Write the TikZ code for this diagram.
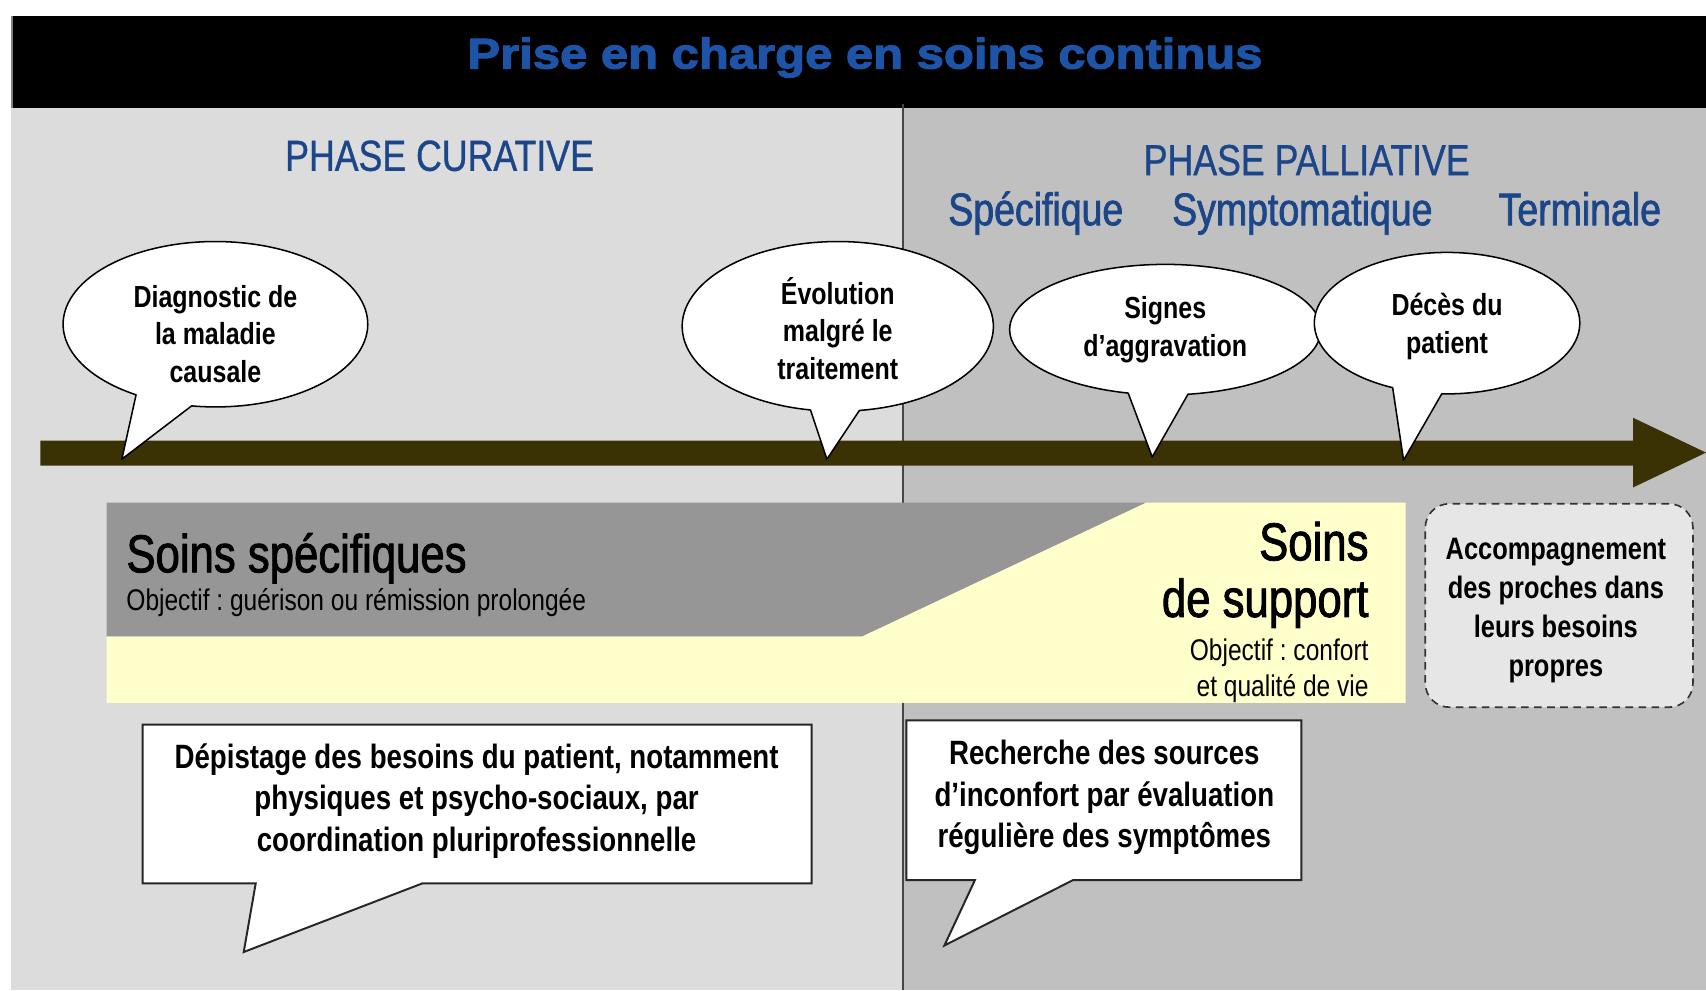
\documentclass[tikz,border=0pt]{standalone}
\usepackage{fontspec}
\setmainfont{Liberation Sans}
\frenchspacing
\newfontfamily\nreg[FakeStretch=0.82]{Liberation Sans}
\newfontfamily\nmed[FakeStretch=0.82,FakeBold=1.6]{Liberation Sans}
\newfontfamily\nsemi[FakeStretch=0.82,FakeBold=0.8]{Liberation Sans}
\newfontfamily\titlefont[FakeStretch=1.14,FakeBold=2.5]{Liberation Sans}
\definecolor{bgL}{RGB}{220,220,220}
\definecolor{bgR}{RGB}{192,192,192}
\definecolor{hblue}{RGB}{28,70,138}
\definecolor{tblue}{RGB}{30,84,168}
\definecolor{olive}{RGB}{58,50,5}
\definecolor{bandgray}{RGB}{150,150,150}
\definecolor{paleyellow}{RGB}{255,255,204}
\definecolor{boxgray}{RGB}{230,230,230}
\definecolor{divider}{RGB}{70,70,70}
\begin{document}
\begin{tikzpicture}[x=1pt,y=-1pt,
  bubble/.style={draw=black,line width=1.4pt,fill=white,line join=round},
  callout/.style={draw=black!85,line width=1.8pt,fill=white,line join=miter},
  btext/.style={font=\nreg\bfseries\fontsize{28}{34.5}\selectfont,align=center,inner sep=0pt},
  ctext/.style={font=\nreg\bfseries\fontsize{31}{38}\selectfont,align=center,inner sep=0pt},
  head/.style={font=\nsemi\fontsize{40}{48}\selectfont,text=hblue,inner sep=0pt,anchor=base},
  subhead/.style={font=\nmed\fontsize{42}{50}\selectfont,text=hblue,inner sep=0pt,anchor=base},
  big/.style={font=\nmed\fontsize{49}{56}\selectfont,inner sep=0pt},
  small/.style={font=\nreg\fontsize{27.5}{33}\selectfont,inner sep=0pt}]
\useasboundingbox (0,0) rectangle (1568,910);
\fill[white] (0,0) rectangle (1568,910);
% panels
\fill[bgL] (10,99) rectangle (830,910);
\fill[bgR] (830,96) rectangle (1568,910);
\fill[black] (10,15) rectangle (1568,99);
\draw[gray,line width=1.5pt] (11,15) -- (11,99);
\draw[divider,line width=1.5pt] (830,96) -- (830,910);
% title
\node[anchor=base,inner sep=0pt,text=tblue,font=\titlefont\bfseries\fontsize{39.5}{44}\selectfont] (title) at (795,63) {Prise en charge en soins continus};
% headings
\node[head] (curative) at (404,157) {PHASE CURATIVE};
\node[head] (palliative) at (1201,161) {PHASE PALLIATIVE};
\node[subhead] (specifique) at (952,207) {Spécifique};
\node[subhead] (sympto) at (1197,207) {Symptomatique};
\node[subhead] (terminale) at (1452,207) {Terminale};
% timeline arrow
\fill[olive] (37,405) -- (1501,405) -- (1501,384) -- (1568,416) -- (1501,448) -- (1501,428) -- (37,428) -- cycle;
% soins band
\fill[paleyellow] (98,585) -- (792,585) -- (1053,462) -- (1292,462) -- (1292,646) -- (98,646) -- cycle;
\fill[bandgray] (98,462) -- (1053,462) -- (792,585) -- (98,585) -- cycle;
\node[big,anchor=base west] (sspec) at (116,526) {Soins spécifiques};
\node[small,anchor=base west] (sspecobj) at (116,561) {Objectif : guérison ou rémission prolongée};
\node[big,anchor=base east] (ssup1) at (1258,515) {Soins};
\node[big,anchor=base east] (ssup2) at (1258,567) {de support};
\node[small,anchor=base east] (ssup3) at (1258,607) {Objectif : confort};
\node[small,anchor=base east] (ssup4) at (1258,640) {et qualité de vie};
% dashed box
\node[draw=black!80,dashed,dash pattern=on 7pt off 5pt,line width=1.5pt,fill=boxgray,rounded corners=22pt,
      minimum width=246pt,minimum height=187pt,inner sep=0pt] (accomp) at (1433,556.5) {};
\node[btext,font=\nreg\bfseries\fontsize{28.5}{35.7}\selectfont] (accompt) at (1430,561) {Accompagnement\\des proches dans\\leurs besoins\\propres};
% bubbles
\coordinate (t1) at (112,422);
\coordinate (t2) at (760,422);
\coordinate (t3) at (1059,420);
\coordinate (t4) at (1290,423);
\draw[bubble] (198,298) ++(99:140 and 76) arc[start angle=99,end angle=-238.6,x radius=140,y radius=76] -- (t1) -- cycle;
\draw[bubble] (770,300) ++(82:143 and 78) arc[start angle=82,end angle=-259.9,x radius=143,y radius=78] -- (t2) -- cycle;
\draw[bubble] (1071,303) ++(81.6:143 and 60) arc[start angle=81.6,end angle=-256.2,x radius=143,y radius=60] -- (t3) -- cycle;
\draw[bubble] (1330,297) ++(92.3:122 and 65) arc[start angle=92.3,end angle=-245.8,x radius=122,y radius=65] -- (t4) -- cycle;
\node[btext] (b1) at (198,307) {Diagnostic de\\la maladie\\causale};
\node[btext] (b2) at (770,302) {Évolution\\malgré le\\traitement};
\node[btext] (b3) at (1071,303) {Signes\\d’aggravation};
\node[btext] (b4) at (1330,300) {Décès du\\patient};
% callouts
\coordinate (ct1) at (224,875);
\coordinate (ct2) at (868,869);
\draw[callout] (131,666) -- (746,666) -- (746,812) -- (388,812) -- (ct1) -- (235,812) -- (131,812) -- cycle;
\draw[callout] (833,662) -- (1196,662) -- (1196,809) -- (986,809) -- (ct2) -- (896,809) -- (833,809) -- cycle;
\node[ctext] (c1) at (438,736) {Dépistage des besoins du patient, notamment\\physiques et psycho-sociaux, par\\coordination pluriprofessionnelle};
\node[ctext] (c2) at (1015,733) {Recherche des sources\\d’inconfort par évaluation\\régulière des symptômes};
\end{tikzpicture}
\end{document}
